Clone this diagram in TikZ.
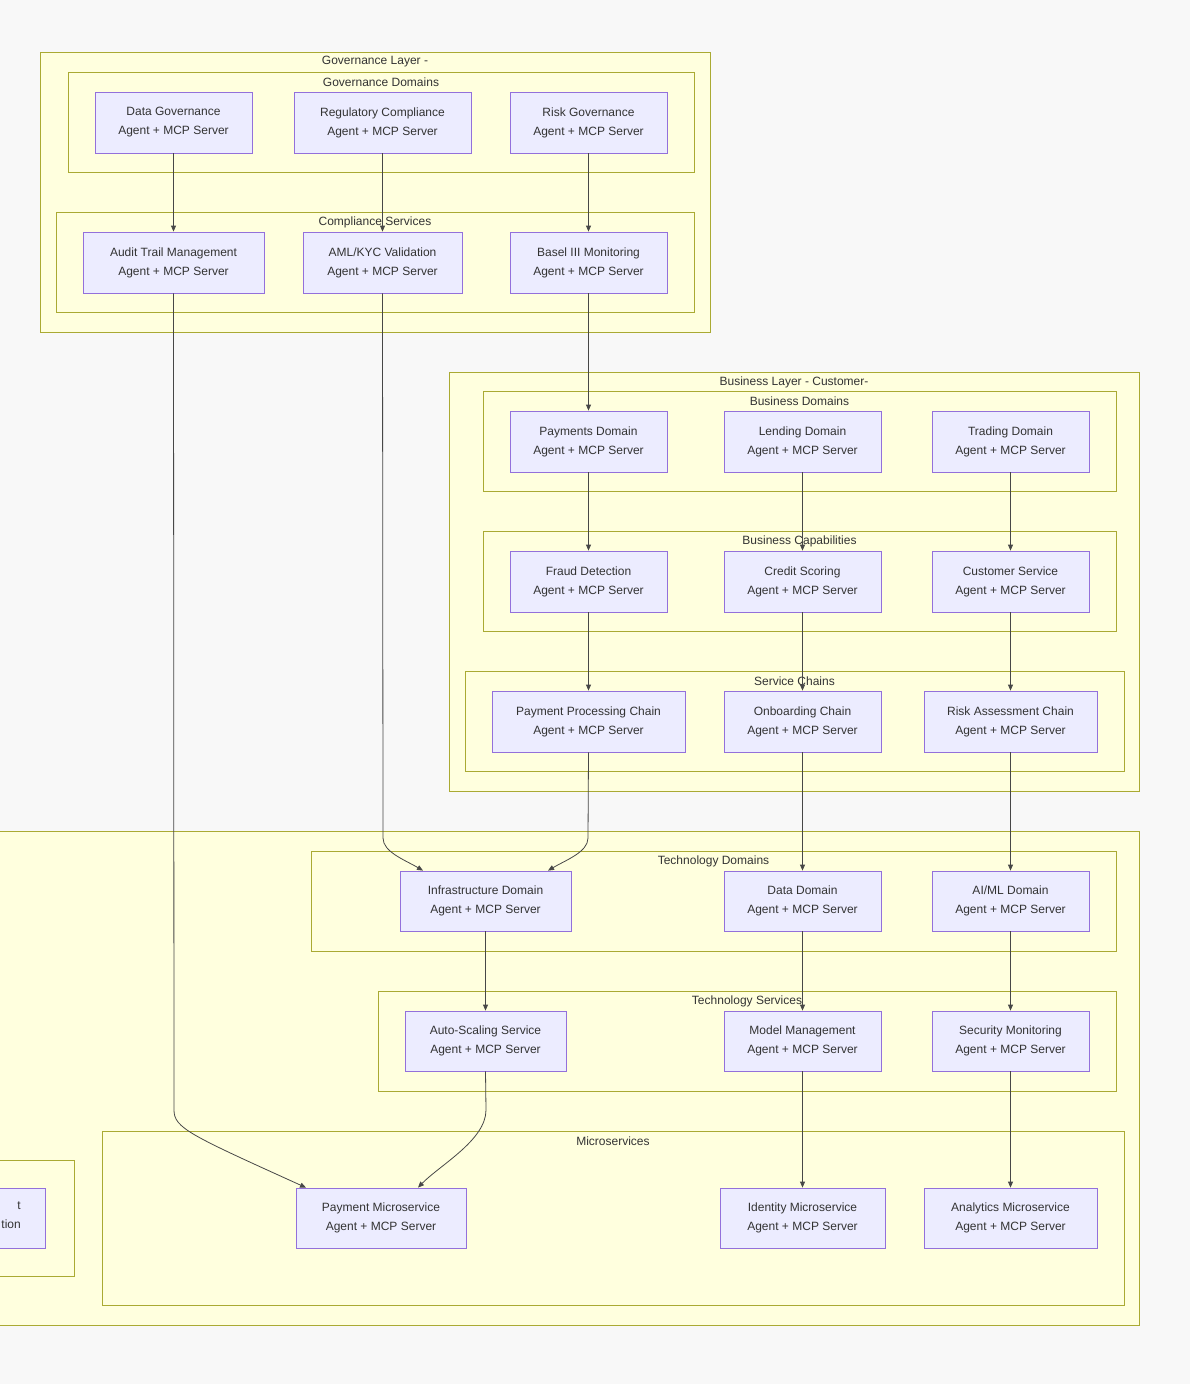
\documentclass[tikz,border=0pt]{standalone}
\usepackage{fontspec}
\setmainfont{Liberation Sans}
\usetikzlibrary{arrows.meta}
\definecolor{cfill}{HTML}{FFFFDE}\definecolor{cdraw}{HTML}{AAAA33}
\definecolor{nfill}{HTML}{ECECFF}\definecolor{ndraw}{HTML}{9370DB}
\definecolor{bg}{HTML}{F8F8F8}\definecolor{txt}{HTML}{333333}
\newcommand{\clu}[6]{\node[clus,minimum width={(#4-#2)*1pt},minimum height={(#5-#3)*1pt}] (#1) at ({(#2+#4)/2},{(#3+#5)/2}) {};
 \node[ttl] at ({(#2+#4)/2},{#3+10}) {#6};}
\newcommand{\bx}[6]{\node[box,minimum width={(#4-#2)*1pt},minimum height={(#5-#3)*1pt}] (#1) at ({(#2+#4)/2},{(#3+#5)/2}) {#6\\Agent + MCP Server};}
\begin{document}
\begin{tikzpicture}[x=1pt,y=-1pt,font=\fontsize{12}{19}\selectfont,
 clus/.style={draw=cdraw,fill=cfill,line width=0.8pt,inner sep=0pt},
 ttl/.style={text=txt,inner sep=0pt},
 box/.style={draw=ndraw,fill=nfill,line width=0.8pt,inner sep=0pt,align=center,text=txt},
 ar/.style={draw=txt!90,line width=0.8pt,-{Triangle[length=6pt,width=5pt]}}]
\useasboundingbox[fill=bg] (0,0) rectangle (1190,1384);
\clu{gov}{40}{52}{710}{332}{Governance Layer - }
\clu{gd}{68}{72}{694}{172}{Governance Domains}
\clu{cs}{56}{212}{694}{312}{Compliance Services}
\clu{bl}{449}{372}{1139}{791}{Business Layer - Customer-}
\clu{bd}{483}{391}{1116}{491}{Business Domains}
\clu{bc}{483}{531}{1116}{631}{Business Capabilities}
\clu{sc}{465}{671}{1124}{771}{Service Chains}
\node[clus,minimum width=1150pt,minimum height=494pt] (tl) at (564,1078) {};
\clu{td}{311}{851}{1116}{951}{Technology Domains}
\clu{ts}{378}{991}{1116}{1091}{Technology Services}
\clu{ms}{102}{1131}{1124}{1305}{Microservices}
\node[clus,minimum width=85pt,minimum height=116pt] (lp) at (31.5,1218) {};
\node[box,minimum width=55pt,minimum height=60pt] (lpn) at (17.5,1218) {};
\node[text=txt,anchor=north east,align=right,inner sep=0pt] (lpt) at (21,1202) {t\\tion};
\bx{dg}{95}{92}{252}{153}{Data Governance}
\bx{rc}{294}{92}{471}{153}{Regulatory Compliance}
\bx{rg}{510}{92}{667}{153}{Risk Governance}
\bx{at}{83}{232}{264}{293}{Audit Trail Management}
\bx{aml}{303}{232}{462}{293}{AML/KYC Validation}
\bx{bas}{510}{232}{667}{293}{Basel III Monitoring}
\bx{pd}{510}{411}{667}{472}{Payments Domain}
\bx{ld}{724}{411}{881}{472}{Lending Domain}
\bx{trd}{932}{411}{1089}{472}{Trading Domain}
\bx{fd}{510}{551}{667}{612}{Fraud Detection}
\bx{cr}{724}{551}{881}{612}{Credit Scoring}
\bx{cus}{932}{551}{1089}{612}{Customer Service}
\bx{ppc}{492}{691}{685}{752}{Payment Processing Chain}
\bx{onb}{724}{691}{881}{752}{Onboarding Chain}
\bx{rac}{924}{691}{1097}{752}{Risk Assessment Chain}
\bx{inf}{400}{871}{571}{931}{Infrastructure Domain}
\bx{dd}{724}{871}{881}{931}{Data Domain}
\bx{ai}{932}{871}{1089}{931}{AI/ML Domain}
\bx{as}{405}{1011}{566}{1071}{Auto-Scaling Service}
\bx{mm}{724}{1011}{881}{1071}{Model Management}
\bx{sm}{932}{1011}{1089}{1071}{Security Monitoring}
\bx{pm}{296}{1188}{466}{1248}{Payment Microservice}
\bx{im}{720}{1188}{885}{1248}{Identity Microservice}
\bx{an}{924}{1188}{1097}{1248}{Analytics Microservice}
\foreach \a/\b in {dg/at,rc/aml,rg/bas,bas/pd,pd/fd,fd/ppc,ld/cr,cr/onb,onb/dd,dd/mm,mm/im,trd/cus,cus/rac,rac/ai,ai/sm,sm/an,inf/as}
 \draw[ar] (\a) -- (\b);
\draw[ar] (at.south) -- (174,1110) .. controls (174,1128) and (190,1135) .. (pm.north west -| 306,0);
\draw[ar] (aml.south) -- (383,838) .. controls (383,852) and (405,860) .. (inf.north west -| 423,0);
\draw[ar] (ppc.south) -- (588,838) .. controls (588,852) and (566,860) .. (inf.north west -| 548,0);
\draw[ar] (as.south) -- (486,1110) .. controls (486,1140) and (440,1165) .. (pm.north west -| 418,0);
\end{tikzpicture}
\end{document}
